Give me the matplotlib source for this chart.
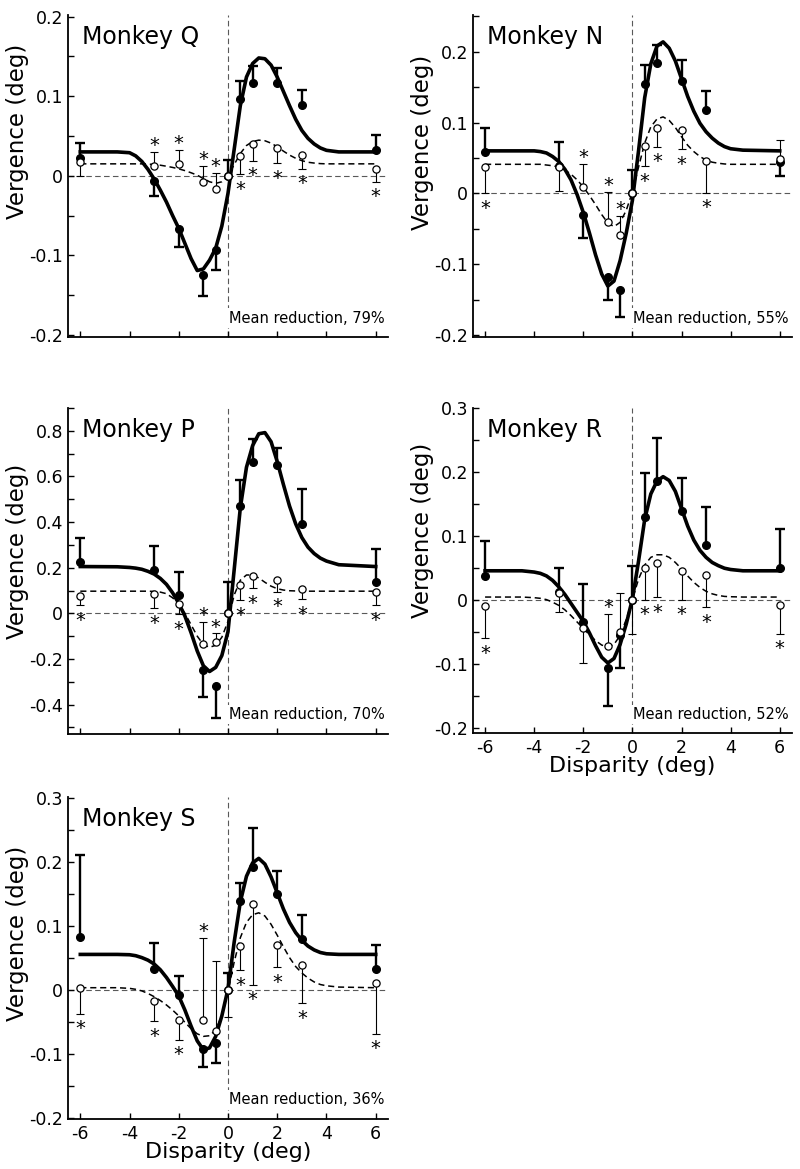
import numpy as np
import matplotlib
matplotlib.use('Agg')
import matplotlib.pyplot as plt
from matplotlib.ticker import MultipleLocator, FuncFormatter

plt.rcParams['font.family'] = ['DejaVu Sans']
plt.rcParams['axes.unicode_minus'] = False

# disparites testees (deg)
disparity = [-6, -3, -2, -1, -0.5, 0, 0.5, 1, 2, 3, 6]
# abscisses ou les courbes ajustees ont ete relevees
fit_x = [-6, -4.5, -4, -3.75, -3.5, -3.25, -3, -2.75, -2.5, -2.25, -2, -1.75, -1.5, -1.25,
         -1, -0.75, -0.5, -0.25, 0, 0.25, 0.5, 0.75, 1, 1.25, 1.5, 1.75, 2, 2.25, 2.5,
         2.75, 3, 3.25, 3.5, 3.75, 4, 4.5, 6]

# Monkey Q
q_filled = [0.022, -0.006, -0.067, -0.124, -0.093, 0.0, 0.096, 0.116, 0.117, 0.089, 0.033]
q_filled_err = [0.019, 0.020, 0.023, 0.027, 0.025, 0.020, 0.023, 0.022, 0.018, 0.019, 0.018]
q_open = [0.017, 0.0125, 0.0146, -0.008, -0.0166, 0.0, 0.025, 0.0396, 0.0354, 0.026, 0.009]
q_open_err = [0.017, 0.0175, 0.018, 0.0205, 0.0206, 0.0, 0.023, 0.0206, 0.0194, 0.017, 0.0165]
q_star = [0, 1, 1, 1, 1, 0, 1, 1, 1, 1, 1]
q_fit_solid = [0.030, 0.030, 0.029, 0.025, 0.018, 0.008, -0.004, -0.018, -0.033, -0.050, -0.066,
               -0.085, -0.104, -0.119, -0.117, -0.106, -0.091, -0.063, -0.022, 0.033, 0.088,
               0.124, 0.141, 0.148, 0.147, 0.139, 0.124, 0.106, 0.088, 0.071, 0.057, 0.047,
               0.040, 0.035, 0.032, 0.030, 0.030]
q_fit_dashed = [0.015, 0.015, 0.015, 0.015, 0.015, 0.0147, 0.0142, 0.0133, 0.012, 0.0105, 0.0087,
                0.0065, 0.0038, 0.0008, -0.0035, -0.0075, -0.0095, -0.0075, 0.0, 0.014, 0.028,
                0.038, 0.043, 0.0448, 0.044, 0.041, 0.0365, 0.031, 0.026, 0.022, 0.019, 0.017,
                0.016, 0.0153, 0.015, 0.015, 0.015]

# Monkey N
n_filled = [0.058, 0.038, -0.030, -0.118, -0.136, 0.0, 0.155, 0.184, 0.158, 0.118, 0.044]
n_filled_err = [0.035, 0.034, 0.033, 0.033, 0.039, 0.033, 0.027, 0.025, 0.030, 0.027, 0.020]
n_open = [0.037, 0.037, 0.0093, -0.040, -0.059, 0.0, 0.067, 0.0916, 0.090, 0.045, 0.049]
n_open_err = [0.037, 0.033, 0.032, 0.042, 0.027, 0.0, 0.029, 0.026, 0.028, 0.044, 0.026]
n_star = [1, 0, 1, 1, 1, 0, 1, 1, 1, 1, 0]
n_fit_solid = [0.060, 0.060, 0.060, 0.059, 0.057, 0.052, 0.045, 0.034, 0.019, -0.002, -0.027,
               -0.056, -0.087, -0.114, -0.131, -0.124, -0.095, -0.056, -0.010, 0.060, 0.135,
               0.183, 0.208, 0.214, 0.205, 0.187, 0.162, 0.137, 0.116, 0.099, 0.087, 0.078,
               0.071, 0.066, 0.063, 0.061, 0.060]
n_fit_dashed = [0.041, 0.041, 0.041, 0.041, 0.040, 0.039, 0.037, 0.033, 0.027, 0.019, 0.009,
                -0.003, -0.016, -0.030, -0.042, -0.047, -0.041, -0.024, 0.002, 0.037, 0.071,
                0.094, 0.105, 0.108, 0.103, 0.093, 0.080, 0.068, 0.059, 0.052, 0.047, 0.044,
                0.0425, 0.0415, 0.041, 0.041, 0.041]

# Monkey P
p_filled = [0.224, 0.19, 0.08, -0.25, -0.317, 0.0, 0.47, 0.662, 0.65, 0.392, 0.139]
p_filled_err = [0.108, 0.106, 0.10, 0.117, 0.143, 0.139, 0.115, 0.101, 0.074, 0.152, 0.142]
p_open = [0.077, 0.083, 0.039, -0.136, -0.127, 0.0, 0.124, 0.165, 0.146, 0.107, 0.095]
p_open_err = [0.041, 0.061, 0.044, 0.099, 0.039, 0.0, 0.066, 0.055, 0.051, 0.046, 0.059]
p_star = [1, 1, 1, 1, 1, 0, 1, 1, 1, 1, 1]
p_fit_solid = [0.205, 0.204, 0.201, 0.198, 0.193, 0.184, 0.172, 0.153, 0.127, 0.090, 0.044,
               -0.012, -0.085, -0.165, -0.230, -0.255, -0.237, -0.185, -0.080, 0.190, 0.462,
               0.640, 0.735, 0.787, 0.792, 0.752, 0.665, 0.565, 0.470, 0.392, 0.332, 0.290,
               0.262, 0.242, 0.229, 0.213, 0.205]
p_fit_dashed = [0.097, 0.097, 0.097, 0.097, 0.097, 0.097, 0.096, 0.093, 0.086, 0.068, 0.040,
                0.0, -0.050, -0.100, -0.137, -0.149, -0.140, -0.105, -0.035, 0.080, 0.145,
                0.168, 0.168, 0.155, 0.136, 0.119, 0.108, 0.102, 0.099, 0.098, 0.097, 0.097,
                0.097, 0.097, 0.097, 0.097, 0.097]

# Monkey R
r_filled = [0.037, 0.012, -0.035, -0.1065, -0.055, 0.0, 0.129, 0.186, 0.139, 0.0846, 0.050]
r_filled_err = [0.055, 0.038, 0.059, 0.060, 0.052, 0.052, 0.068, 0.067, 0.051, 0.060, 0.0595]
r_open = [-0.010, 0.011, -0.044, -0.073, -0.050, 0.0, 0.050, 0.057, 0.0446, 0.038, -0.009]
r_open_err = [0.050, 0.030, 0.055, 0.051, 0.060, 0.053, 0.050, 0.053, 0.045, 0.050, 0.044]
r_star = [1, 0, 0, 1, 0, 0, 1, 1, 1, 1, 1]
r_fit_solid = [0.045, 0.045, 0.043, 0.041, 0.037, 0.030, 0.020, 0.008, -0.006, -0.020, -0.034,
               -0.052, -0.072, -0.090, -0.099, -0.092, -0.070, -0.038, 0.001, 0.060, 0.125,
               0.165, 0.185, 0.192, 0.186, 0.169, 0.142, 0.115, 0.093, 0.077, 0.066, 0.058,
               0.053, 0.049, 0.047, 0.045, 0.045]
r_fit_dashed = [0.004, 0.004, 0.003, 0.002, 0.0, -0.004, -0.009, -0.016, -0.025, -0.035, -0.045,
                -0.055, -0.064, -0.071, -0.074, -0.070, -0.056, -0.031, 0.0, 0.032, 0.054,
                0.066, 0.070, 0.070, 0.066, 0.058, 0.048, 0.037, 0.027, 0.019, 0.013, 0.009,
                0.0065, 0.005, 0.0045, 0.004, 0.004]

# Monkey S
s_filled = [0.083, 0.034, -0.008, -0.092, -0.083, 0.0, 0.139, 0.193, 0.150, 0.080, 0.033]
s_filled_err = [0.128, 0.040, 0.030, 0.028, 0.030, 0.027, 0.029, 0.060, 0.036, 0.038, 0.038]
s_open = [0.0036, -0.017, -0.047, -0.046, -0.064, 0.0, 0.069, 0.134, 0.071, 0.040, 0.012]
s_open_err = [0.040, 0.031, 0.030, 0.128, 0.110, 0.042, 0.038, 0.125, 0.035, 0.060, 0.080]
s_star = [1, 1, 1, 1, 0, 0, 1, 1, 1, 1, 1]
s_fit_solid = [0.056, 0.056, 0.0555, 0.054, 0.051, 0.047, 0.041, 0.032, 0.020, 0.006, -0.009,
               -0.031, -0.056, -0.079, -0.093, -0.090, -0.072, -0.040, 0.002, 0.075, 0.138,
               0.178, 0.199, 0.206, 0.197, 0.177, 0.152, 0.127, 0.106, 0.090, 0.078, 0.069,
               0.063, 0.059, 0.057, 0.056, 0.056]
s_fit_dashed = [0.004, 0.004, 0.003, 0.0015, -0.001, -0.005, -0.010, -0.016, -0.023, -0.031, -0.040,
                -0.050, -0.060, -0.068, -0.072, -0.071, -0.062, -0.039, -0.002, 0.044, 0.082,
                0.106, 0.118, 0.121, 0.116, 0.103, 0.086, 0.068, 0.051, 0.037, 0.027, 0.019,
                0.013, 0.009, 0.007, 0.005, 0.004]

reductions = {'Q': '79%', 'N': '55%', 'P': '70%', 'R': '52%', 'S': '36%'}


def fmt_tick(v, pos):
    if abs(v) < 1e-9:
        return '0'
    return '%g' % round(v, 3)


def draw_bars(ax, vals, errs, up, lw, cap):
    x = np.array(disparity, dtype=float)
    vals = np.array(vals)
    errs = np.array(errs)
    ends = np.where(up, vals + errs, vals - errs)
    keep = errs > 0
    ax.vlines(x[keep], vals[keep], ends[keep], colors='k', lw=lw, zorder=2)
    ax.plot(x[keep], ends[keep], ls='none', marker='_', ms=cap, mew=lw, color='k', zorder=2)
    return ends


def draw_panel(ax, name, filled, filled_err, opn, opn_err, star, fit_solid, fit_dashed,
               ylim, major, minor, ylab_y, show_x):
    # lignes de reference
    ax.axhline(0, color='0.35', lw=0.8, dashes=(5, 3), zorder=1)
    ax.axvline(0, color='0.35', lw=0.8, dashes=(5, 3), zorder=1)

    # courbes ajustees
    ax.plot(fit_x, fit_solid, color='k', lw=2.6, zorder=3, solid_joinstyle='round')
    ax.plot(fit_x, fit_dashed, color='k', lw=1.1, dashes=(4, 2.5), zorder=3)

    up = np.array(filled) >= np.array(opn)
    draw_bars(ax, filled, filled_err, up, 1.7, 7)
    ends = draw_bars(ax, opn, opn_err, ~up, 0.8, 6)

    ax.plot(disparity, filled, 'o', color='k', ms=5.5, zorder=4)
    ax.plot(disparity, opn, 'o', mfc='white', mec='k', mew=0.9, ms=5.2, zorder=5)

    # asterisques
    fs = 14
    for i, s in enumerate(star):
        if not s:
            continue
        dy = 4.5 if not up[i] else -10.8
        ax.annotate('*', (disparity[i], ends[i]), xytext=(0, dy), textcoords='offset points',
                    ha='center', va='center', fontsize=fs, zorder=6)

    ax.text(0.045, 0.91, 'Monkey ' + name, transform=ax.transAxes, fontsize=17, va='baseline')
    ax.text(0.99, 0.045, 'Mean reduction, ' + reductions[name], transform=ax.transAxes,
            fontsize=10.5, ha='right', va='baseline', zorder=6,
            bbox=dict(fc='white', ec='none', pad=1.5))

    ax.set_xlim(-6.5, 6.5)
    ax.set_ylim(*ylim)
    ax.set_xticks([-6, -4, -2, 0, 2, 4, 6])
    ax.yaxis.set_major_locator(MultipleLocator(major))
    ax.yaxis.set_minor_locator(MultipleLocator(minor))
    ax.yaxis.set_major_formatter(FuncFormatter(fmt_tick))
    ax.tick_params(which='both', direction='in', length=4, width=1.0, labelsize=12.5)
    ax.tick_params(axis='y', pad=3.5)
    ax.tick_params(axis='x', pad=4)
    for sp in ['top', 'right']:
        ax.spines[sp].set_visible(False)
    for sp in ['left', 'bottom']:
        ax.spines[sp].set_linewidth(1.3)

    ax.set_ylabel('Vergence (deg)', fontsize=16.5)
    ax.yaxis.set_label_coords(-0.122, ylab_y)
    if show_x:
        ax.set_xticklabels(['-6', '-4', '-2', '0', '2', '4', '6'])
        ax.set_xlabel('Disparity (deg)', fontsize=16)
        ax.xaxis.set_label_coords(0.5, -0.07)
    else:
        ax.set_xticklabels([])


fig = plt.figure(figsize=(8, 11.69), dpi=100)

ax_q = fig.add_axes([0.085, 0.7117, 0.40, 0.2755])
ax_n = fig.add_axes([0.591, 0.7117, 0.399, 0.2755])
ax_p = fig.add_axes([0.085, 0.3721, 0.40, 0.2789])
ax_r = fig.add_axes([0.591, 0.3726, 0.399, 0.2788])
ax_s = fig.add_axes([0.085, 0.0428, 0.40, 0.2755])

draw_panel(ax_q, 'Q', q_filled, q_filled_err, q_open, q_open_err, q_star, q_fit_solid, q_fit_dashed,
           (-0.2025, 0.202), 0.1, 0.05, 0.637, False)
draw_panel(ax_n, 'N', n_filled, n_filled_err, n_open, n_open_err, n_star, n_fit_solid, n_fit_dashed,
           (-0.203, 0.252), 0.1, 0.05, 0.604, False)
draw_panel(ax_p, 'P', p_filled, p_filled_err, p_open, p_open_err, p_star, p_fit_solid, p_fit_dashed,
           (-0.529, 0.9), 0.2, 0.1, 0.56, False)
draw_panel(ax_r, 'R', r_filled, r_filled_err, r_open, r_open_err, r_star, r_fit_solid, r_fit_dashed,
           (-0.209, 0.3), 0.1, 0.05, 0.624, True)
draw_panel(ax_s, 'S', s_filled, s_filled_err, s_open, s_open_err, s_star, s_fit_solid, s_fit_dashed,
           (-0.201, 0.302), 0.1, 0.05, 0.575, True)

fig.savefig('out.png', dpi=100)
